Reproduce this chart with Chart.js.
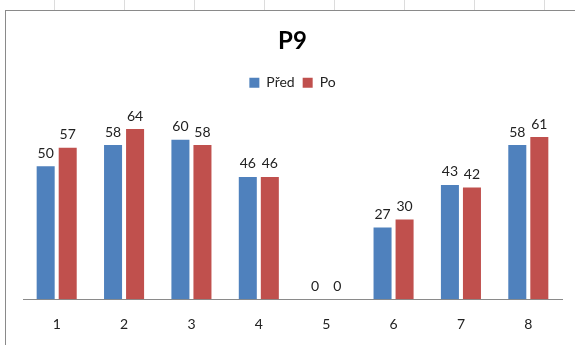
<!DOCTYPE html>
<html>
<head>
<meta charset="utf-8">
<script src="https://cdn.jsdelivr.net/npm/chart.js@4"></script>
<style>
  html, body { margin: 0; padding: 0; background: #fff; }
  body {
    width: 575px; height: 345px; position: relative; overflow: hidden;
    background-image: repeating-linear-gradient(to right, transparent 0, transparent 54px, #dcdcdc 54px, #dcdcdc 55px, transparent 55px, transparent 70px);
  }
  #box {
    position: absolute; left: 5px; top: 10px; width: 570px; height: 335px;
    border-top: 1px solid #8a8a8a; border-left: 1px solid #8a8a8a;
    background: #fff;
  }
  canvas { display: block; }
</style>
</head>
<body>
<div id="box"><canvas id="p9Chart" width="569" height="334"></canvas></div>
<script>
var categories = ["1", "2", "3", "4", "5", "6", "7", "8"];
var predValues = [50, 58, 60, 46, 0, 27, 43, 58];
var poValues = [57, 64, 58, 46, 0, 30, 42, 61];

// draws the value above each bar
var valueLabels = {
  id: "valueLabels",
  afterDatasetsDraw: function (chart) {
    var ctx = chart.ctx;
    ctx.save();
    ctx.font = "14px Lato, 'Open Sans', sans-serif";
    ctx.fillStyle = "#222";
    ctx.textAlign = "center";
    ctx.textBaseline = "bottom";
    chart.data.datasets.forEach(function (ds, i) {
      chart.getDatasetMeta(i).data.forEach(function (bar, j) {
        ctx.fillText(ds.data[j], bar.x, bar.y - 6);
      });
    });
    ctx.restore();
  }
};

new Chart("p9Chart", {
  type: "bar",
  data: {
    labels: categories,
    datasets: [{
      label: "Před",
      data: predValues,
      backgroundColor: "#4F81BD",
      categoryPercentage: 0.654,
      barPercentage: 0.818
    },
    {
      label: "Po",
      data: poValues,
      backgroundColor: "#C0504D",
      categoryPercentage: 0.654,
      barPercentage: 0.818
    }]
  },
  plugins: [valueLabels],
  options: {
    responsive: false,
    animation: false,
    layout: {
      padding: { left: 17, right: 13, top: 0, bottom: -5 }
    },
    plugins: {
      title: {
        display: true,
        text: "P9",
        color: "#000",
        font: { family: "Lato, 'Open Sans', sans-serif", size: 24, weight: "bold" },
        padding: { top: 16, bottom: 12 }
      },
      legend: {
        labels: {
          boxWidth: 10,
          boxHeight: 10,
          padding: 8,
          color: "#222",
          font: { family: "Lato, 'Open Sans', sans-serif", size: 14 }
        }
      },
      tooltip: { enabled: false }
    },
    scales: {
      x: {
        grid: { display: false, drawTicks: false },
        border: { display: true, color: "#8a8a8a" },
        ticks: {
          padding: 17,
          color: "#222",
          font: { family: "Lato, 'Open Sans', sans-serif", size: 14 }
        }
      },
      y: {
        display: false,
        min: 0,
        max: 75
      }
    }
  }
});
</script>
</body>
</html>
